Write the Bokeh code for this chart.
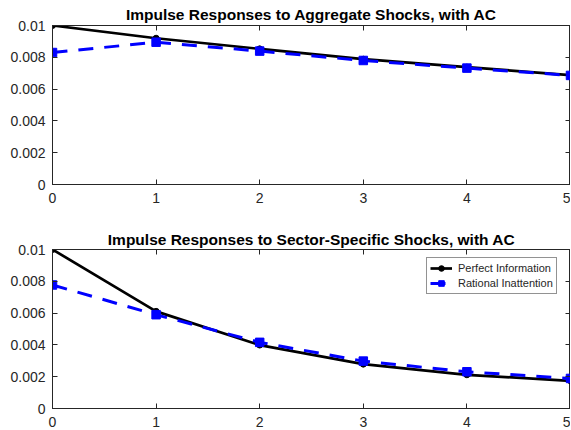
from bokeh.plotting import figure
from bokeh.layouts import column
from bokeh.models import (Range1d, FixedTicker, LinearAxis, CustomJSTickFormatter,
                          Legend, LegendItem)
from bokeh.embed import file_html
from bokeh.resources import INLINE

# Impulse response horizons and responses
horizon = [0, 1, 2, 3, 4, 5]
agg_perfect = [0.0100, 0.00920, 0.00853, 0.00788, 0.00738, 0.00688]
agg_inattention = [0.00830, 0.00895, 0.00839, 0.00780, 0.00732, 0.00686]
sec_perfect = [0.0100, 0.00611, 0.00399, 0.00279, 0.00212, 0.00174]
sec_inattention = [0.00777, 0.00590, 0.00416, 0.00298, 0.00231, 0.00189]

x_ticks = [0, 1, 2, 3, 4, 5]
y_ticks = [0, 0.002, 0.004, 0.006, 0.008, 0.01]

titles = ["Impulse Responses to Aggregate Shocks, with AC",
          "Impulse Responses to Sector-Specific Shocks, with AC"]
labels = ["Perfect Information", "Rational Inattention"]

AX = "#262626"
FONT = "Liberation Sans"

y_fmt = CustomJSTickFormatter(code="return Number(tick.toFixed(3)).toString();")


def style_axis(ax, show_labels):
    ax.axis_line_color = AX
    ax.axis_line_width = 1
    ax.major_tick_line_color = AX
    ax.major_tick_in = 5
    ax.major_tick_out = 0
    ax.minor_tick_line_color = None
    ax.major_label_text_font = FONT
    if show_labels:
        ax.major_label_text_color = AX
        ax.major_label_text_font_size = "14px"
        ax.major_label_standoff = 8
    else:
        # tick marks only on the mirrored box edges
        ax.major_label_text_color = None
        ax.major_label_text_font_size = "1px"
        ax.major_label_standoff = 0


def make_panel(title, perfect, inattention, top_border, bottom_border,
               title_standoff, with_legend):
    p = figure(frame_width=518, frame_height=159,
               min_border_left=52, min_border_right=0,
               min_border_top=top_border, min_border_bottom=bottom_border,
               x_range=Range1d(0, 5), y_range=Range1d(0, 0.01),
               output_backend="svg", toolbar_location=None, title=title)
    p.title.align = "center"
    p.title.text_font = FONT
    p.title.text_font_size = "15.5px"
    p.title.text_font_style = "bold"
    p.title.text_color = "#000000"
    p.title.offset = 4
    p.title.standoff = title_standoff
    p.background_fill_color = "white"
    p.border_fill_color = "white"
    p.outline_line_color = AX
    p.xgrid.visible = False
    p.ygrid.visible = False

    p.xaxis.ticker = FixedTicker(ticks=x_ticks)
    p.yaxis.ticker = FixedTicker(ticks=y_ticks)
    p.yaxis.formatter = y_fmt
    style_axis(p.xaxis[0], True)
    style_axis(p.yaxis[0], True)
    p.yaxis.major_label_standoff = 7

    top_ax = LinearAxis(ticker=FixedTicker(ticks=x_ticks))
    right_ax = LinearAxis(ticker=FixedTicker(ticks=y_ticks))
    style_axis(top_ax, False)
    style_axis(right_ax, False)
    p.add_layout(top_ax, "above")
    p.add_layout(right_ax, "right")

    pl = p.line(horizon, perfect, line_color="black", line_width=2.7)
    pm = p.scatter(horizon, perfect, marker="circle", size=6,
                   fill_color="black", line_color="black")
    rl = p.line(horizon, inattention, line_color="#0000ff", line_width=3,
                line_dash="15 11")
    rm = p.scatter(horizon, inattention, marker="square", size=8.5,
                   fill_color="#0000ff", line_color="#0000ff")

    if with_legend:
        legend = Legend(items=[LegendItem(label=labels[0], renderers=[pl, pm]),
                               LegendItem(label=labels[1], renderers=[rl, rm])],
                        location=(374, 114))
        legend.label_text_font = FONT
        legend.label_text_font_size = "11px"
        legend.label_text_color = AX
        legend.label_height = 14
        legend.glyph_height = 14
        legend.glyph_width = 22
        legend.label_standoff = 6
        legend.padding = 3
        legend.spacing = 1
        legend.margin = 0
        legend.border_line_color = AX
        legend.border_line_width = 1
        legend.background_fill_color = "white"
        legend.background_fill_alpha = 1
        p.add_layout(legend, "center")
    return p


top = make_panel(titles[0], agg_perfect, agg_inattention, 25, 33, 5, False)
bottom = make_panel(titles[1], sec_perfect, sec_inattention, 32, 23, 3, True)

layout = column(top, bottom, spacing=0)

open("out.html", "w").write(file_html(layout, INLINE))
